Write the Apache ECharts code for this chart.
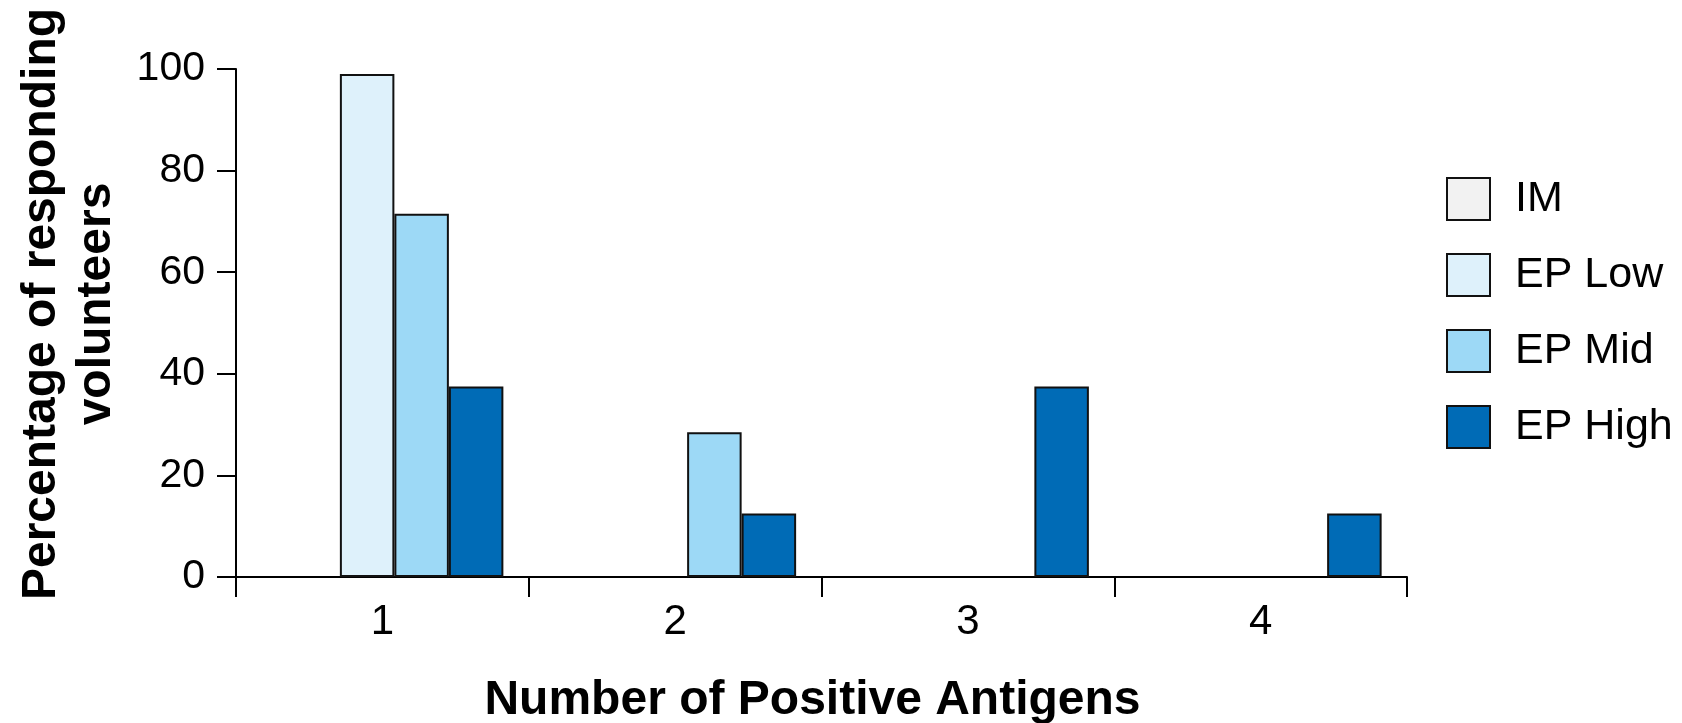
<!DOCTYPE html>
<html><head><meta charset="utf-8">
<script src="https://cdn.jsdelivr.net/npm/echarts@6/dist/echarts.min.js"></script>
<style>html,body{margin:0;padding:0;background:#fff}#c{width:1682px;height:723px}</style>
</head><body><div id="c"></div>
<script>
const categories = ['1', '2', '3', '4'];
const seriesNames = ['IM', 'EP Low', 'EP Mid', 'EP High'];
const imValues = [0, 0, 0, 0];
const epLowValues = [99, 0, 0, 0];
const epMidValues = [71.5, 28.5, 0, 0];
const epHighValues = [37.5, 12.5, 37.5, 12.5];
const yTicks = [0, 20, 40, 60, 80, 100];
const xTitle = 'Number of Positive Antigens';
const yTitle = 'Percentage of responding\nvolunteers';

const colors = ['#f2f2f2', '#def1fb', '#9dd9f6', '#006bb6'];
const FONT = '"Liberation Sans", Arial, Helvetica, sans-serif';
const allValues = [imValues, epLowValues, epMidValues, epHighValues];

const chart = echarts.init(document.getElementById('c'), null, {renderer: 'canvas'});
const axisLine = {show: true, lineStyle: {color: '#000', width: 2}};
chart.setOption({
  animation: false,
  backgroundColor: '#fff',
  textStyle: {fontFamily: FONT},
  grid: [
    {left: 236, right: 275, top: 69, bottom: 146, containLabel: false, outerBoundsMode: 'none'},
    {left: 248, right: 263, top: 69, bottom: 146, containLabel: false, outerBoundsMode: 'none'}
  ],
  legend: {
    data: seriesNames,
    orient: 'vertical',
    left: 1441,
    top: 172,
    icon: 'rect',
    itemWidth: 43,
    itemHeight: 42,
    itemGap: 32,
    textStyle: {fontSize: 43, color: '#000', fontFamily: FONT, lineHeight: 43, padding: [0, 0, 0, 20]}
  },
  xAxis: [
    {
      gridIndex: 0, type: 'category', data: categories, boundaryGap: true,
      axisLine: axisLine,
      axisTick: {show: true, length: 20, lineStyle: {color: '#000', width: 2}},
      axisLabel: {fontSize: 42, color: '#000', margin: 24, fontFamily: FONT},
      splitLine: {show: false},
      name: xTitle, nameLocation: 'middle', nameGap: 100,
      nameTextStyle: {fontSize: 48, fontWeight: 'bold', color: '#000', fontFamily: FONT, padding: [0, 18, 0, 0]}
    },
    {gridIndex: 1, type: 'category', data: categories, show: false}
  ],
  yAxis: [
    {
      gridIndex: 0, type: 'value', min: yTicks[0], max: yTicks[yTicks.length - 1],
      interval: yTicks[1] - yTicks[0],
      axisLine: axisLine,
      axisTick: {show: true, length: 19, lineStyle: {color: '#000', width: 2}},
      axisLabel: {fontSize: 41, color: '#000', margin: 31, fontFamily: FONT},
      splitLine: {show: false},
      name: yTitle, nameLocation: 'middle', nameRotate: 90, nameGap: 112,
      nameTextStyle: {fontSize: 48, fontWeight: 'bold', color: '#000', fontFamily: FONT,
        lineHeight: 55, align: 'center', padding: [0, 0, 0, 38]}
    },
    {gridIndex: 1, type: 'value', min: yTicks[0], max: yTicks[yTicks.length - 1], show: false}
  ],
  series: seriesNames.map((name, i) => ({
    name: name,
    type: 'bar',
    xAxisIndex: 1,
    yAxisIndex: 1,
    // zero-height bars are not drawn (no border line along the axis)
    data: allValues[i].map(v => (v === 0 ? '-' : v)),
    barWidth: 54.5,
    barGap: '0%',
    itemStyle: {color: colors[i], borderColor: '#111', borderWidth: 2}
  }))
});
</script>
</body></html>
